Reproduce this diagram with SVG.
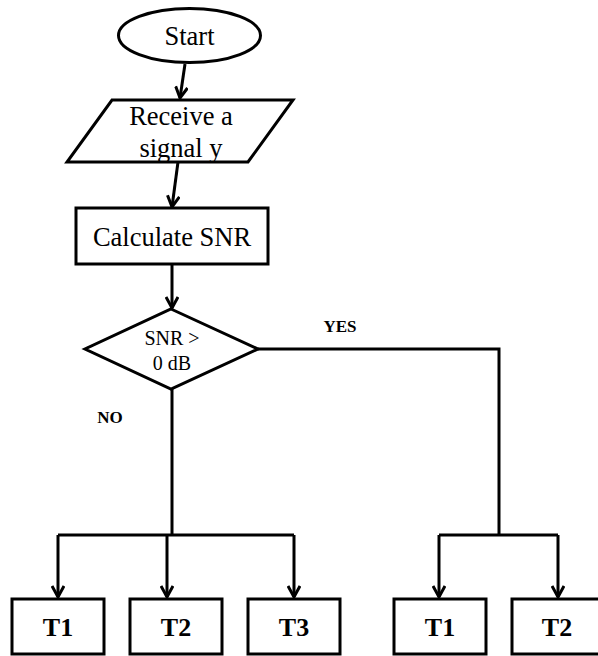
<svg xmlns="http://www.w3.org/2000/svg" width="598" height="656" viewBox="0 0 598 656">
  <style>
    .shape { fill: #fff; stroke: #000; stroke-width: 3; stroke-linejoin: miter; }
    .wire { fill: none; stroke: #000; stroke-width: 3; }
    text { font-family: "Liberation Serif", "DejaVu Serif", serif; fill: #000; text-anchor: middle; }
    .big { font-size: 26.5px; }
    .mid { font-size: 20px; }
    .lbl { font-size: 17px; font-weight: bold; }
    .tk { font-size: 26px; font-weight: bold; }
  </style>
  <defs>
    <marker id="arrow" viewBox="0 0 14 14" refX="12" refY="7" markerWidth="14" markerHeight="14" markerUnits="userSpaceOnUse" orient="auto">
      <path d="M1,1 L12,7 L1,13" fill="none" stroke="#000" stroke-width="3"/>
    </marker>
  </defs>

  <rect width="598" height="656" fill="#fff"/>

  <!-- connectors -->
  <g id="connectors" class="wire">
    <line x1="185" y1="64" x2="180" y2="98" marker-end="url(#arrow)"/>
    <line x1="178" y1="162" x2="172" y2="207" marker-end="url(#arrow)"/>
    <line x1="172" y1="264" x2="172" y2="308" marker-end="url(#arrow)"/>
    <!-- NO branch -->
    <polyline points="172,389 172,535"/>
    <polyline points="58,535 294,535"/>
    <line x1="58" y1="535" x2="58" y2="597" marker-end="url(#arrow)"/>
    <line x1="167" y1="535" x2="167" y2="597" marker-end="url(#arrow)"/>
    <line x1="294" y1="535" x2="294" y2="597" marker-end="url(#arrow)"/>
    <!-- YES branch -->
    <polyline points="258,349 499,349 499,535"/>
    <polyline points="439,535 558,535"/>
    <line x1="439" y1="535" x2="439" y2="597" marker-end="url(#arrow)"/>
    <line x1="558" y1="535" x2="558" y2="597" marker-end="url(#arrow)"/>
  </g>

  <!-- branch labels -->
  <g id="labels">
    <text class="lbl" x="340" y="332">YES</text>
    <text class="lbl" x="110" y="423">NO</text>
  </g>

  <g id="start">
    <ellipse class="shape" cx="189.5" cy="35.5" rx="71" ry="27"/>
    <text class="big" x="189.5" y="45">Start</text>
  </g>

  <g id="receive">
    <polygon class="shape" points="112,100 293,100 248,162 67,162"/>
    <text class="big" x="181" y="125">Receive a</text>
    <text class="big" x="181" y="157">signal y</text>
  </g>

  <g id="calc">
    <rect class="shape" x="76" y="208" width="192" height="56"/>
    <text class="big" x="172" y="246">Calculate SNR</text>
  </g>

  <g id="decision">
    <polygon class="shape" points="171,309 258,349 171,389 85,349"/>
    <text class="mid" x="172" y="345">SNR &gt;</text>
    <text class="mid" x="172" y="370">0 dB</text>
  </g>

  <g id="no-t1">
    <rect class="shape" x="12" y="599" width="92" height="55"/>
    <text class="tk" x="58" y="636">T1</text>
  </g>
  <g id="no-t2">
    <rect class="shape" x="130" y="599" width="92" height="55"/>
    <text class="tk" x="176" y="636">T2</text>
  </g>
  <g id="no-t3">
    <rect class="shape" x="248" y="599" width="92" height="55"/>
    <text class="tk" x="294" y="636">T3</text>
  </g>
  <g id="yes-t1">
    <rect class="shape" x="394" y="599" width="92" height="55"/>
    <text class="tk" x="440" y="636">T1</text>
  </g>
  <g id="yes-t2">
    <rect class="shape" x="512" y="599" width="92" height="55"/>
    <text class="tk" x="557" y="636">T2</text>
  </g>
</svg>
